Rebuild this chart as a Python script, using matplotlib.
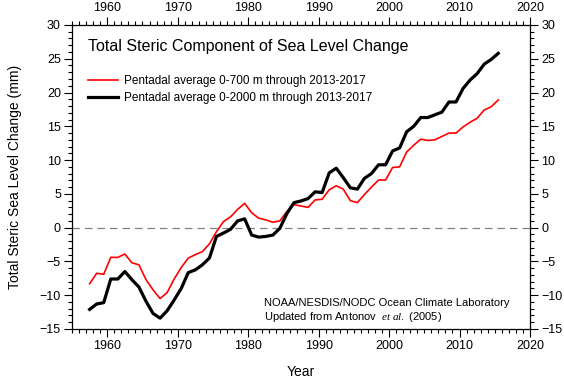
import numpy as np
import matplotlib
matplotlib.use("Agg")
import matplotlib.pyplot as plt
from matplotlib.ticker import MultipleLocator

plt.rcParams['font.family'] = ['Liberation Sans', 'DejaVu Sans']
plt.rcParams['mathtext.fontset'] = 'custom'
plt.rcParams['mathtext.it'] = 'Liberation Serif:italic'
plt.rcParams['mathtext.rm'] = 'Liberation Sans'

# pentadi centrati (1955-1959 ... 2013-2017)
anni = np.arange(1957.5, 2016, 1.0)

# 0-700 m (rosso)
steric_700 = [-8.3, -6.75, -6.9, -4.4, -4.4, -3.9, -5.2, -5.5, -7.7, -9.2,
              -10.5, -9.6, -7.6, -5.9, -4.5, -4.0, -3.55, -2.4, -0.6, 0.9,
              1.6, 2.7, 3.6, 2.2, 1.4, 1.15, 0.8, 1.0, 2.4, 3.4,
              3.2, 3.0, 4.1, 4.2, 5.6, 6.2, 5.7, 4.0, 3.7, 4.9,
              6.0, 7.05, 7.05, 8.9, 9.0, 11.2, 12.2, 13.1, 12.9, 13.0,
              13.5, 14.0, 14.0, 14.9, 15.6, 16.2, 17.4, 17.9, 18.9]

# 0-2000 m (nero)
steric_2000 = [-12.1, -11.3, -11.1, -7.6, -7.6, -6.5, -7.7, -8.8, -10.9, -12.7,
               -13.4, -12.3, -10.7, -9.0, -6.65, -6.25, -5.5, -4.5, -1.3, -0.8,
               -0.25, 1.0, 1.3, -1.1, -1.4, -1.3, -1.1, -0.1, 2.1, 3.7,
               3.95, 4.3, 5.3, 5.2, 8.1, 8.8, 7.4, 5.9, 5.7, 7.3,
               8.0, 9.3, 9.3, 11.35, 11.8, 14.2, 15.0, 16.3, 16.3, 16.7,
               17.1, 18.6, 18.6, 20.6, 21.85, 22.8, 24.2, 24.9, 25.8]

fig = plt.figure(figsize=(5.64, 3.81), dpi=100)
ax = fig.add_axes([0.1277, 0.1365, 0.812, 0.798])

ax.axhline(0, color='gray', lw=0.9, ls=(0, (6, 4)))
ax.plot(anni, steric_700, color='red', lw=1.2,
        label='Pentadal average 0-700 m through 2013-2017')
ax.plot(anni, steric_2000, color='black', lw=2.3,
        label='Pentadal average 0-2000 m through 2013-2017')

ax.set_xlim(1955, 2020)
ax.set_ylim(-15, 30)
ax.xaxis.set_major_locator(MultipleLocator(10))
ax.xaxis.set_minor_locator(MultipleLocator(1))
ax.yaxis.set_major_locator(MultipleLocator(5))
ax.yaxis.set_minor_locator(MultipleLocator(1))
ax.tick_params(which='both', direction='out', top=True, right=True,
               labeltop=True, labelright=True, labelsize=9, width=0.8)
ax.tick_params(which='major', length=6, pad=2)
ax.tick_params(which='minor', length=3)
for s in ax.spines.values():
    s.set_linewidth(0.9)

ax.set_xlabel('Year', fontsize=10, labelpad=9)
ax.set_ylabel('Total Steric Sea Level Change (mm)', fontsize=10, labelpad=13)

ax.text(0.035, 0.93, 'Total Steric Component of Sea Level Change',
        transform=ax.transAxes, fontsize=11.5, va='center', ha='left')
ax.legend(loc='upper left', bbox_to_anchor=(0.011, 0.87), frameon=False,
          fontsize=8.5, handlelength=2.6, handletextpad=0.5, labelspacing=0.45)

ax.text(0.42, 0.085, 'NOAA/NESDIS/NODC Ocean Climate Laboratory',
        transform=ax.transAxes, fontsize=8, va='center', ha='left')
ax.text(0.42, 0.038, r'Updated from Antonov  $\it{et\ al.}$ (2005)',
        transform=ax.transAxes, fontsize=8, va='center', ha='left')

fig.savefig('out.png', dpi=100)
